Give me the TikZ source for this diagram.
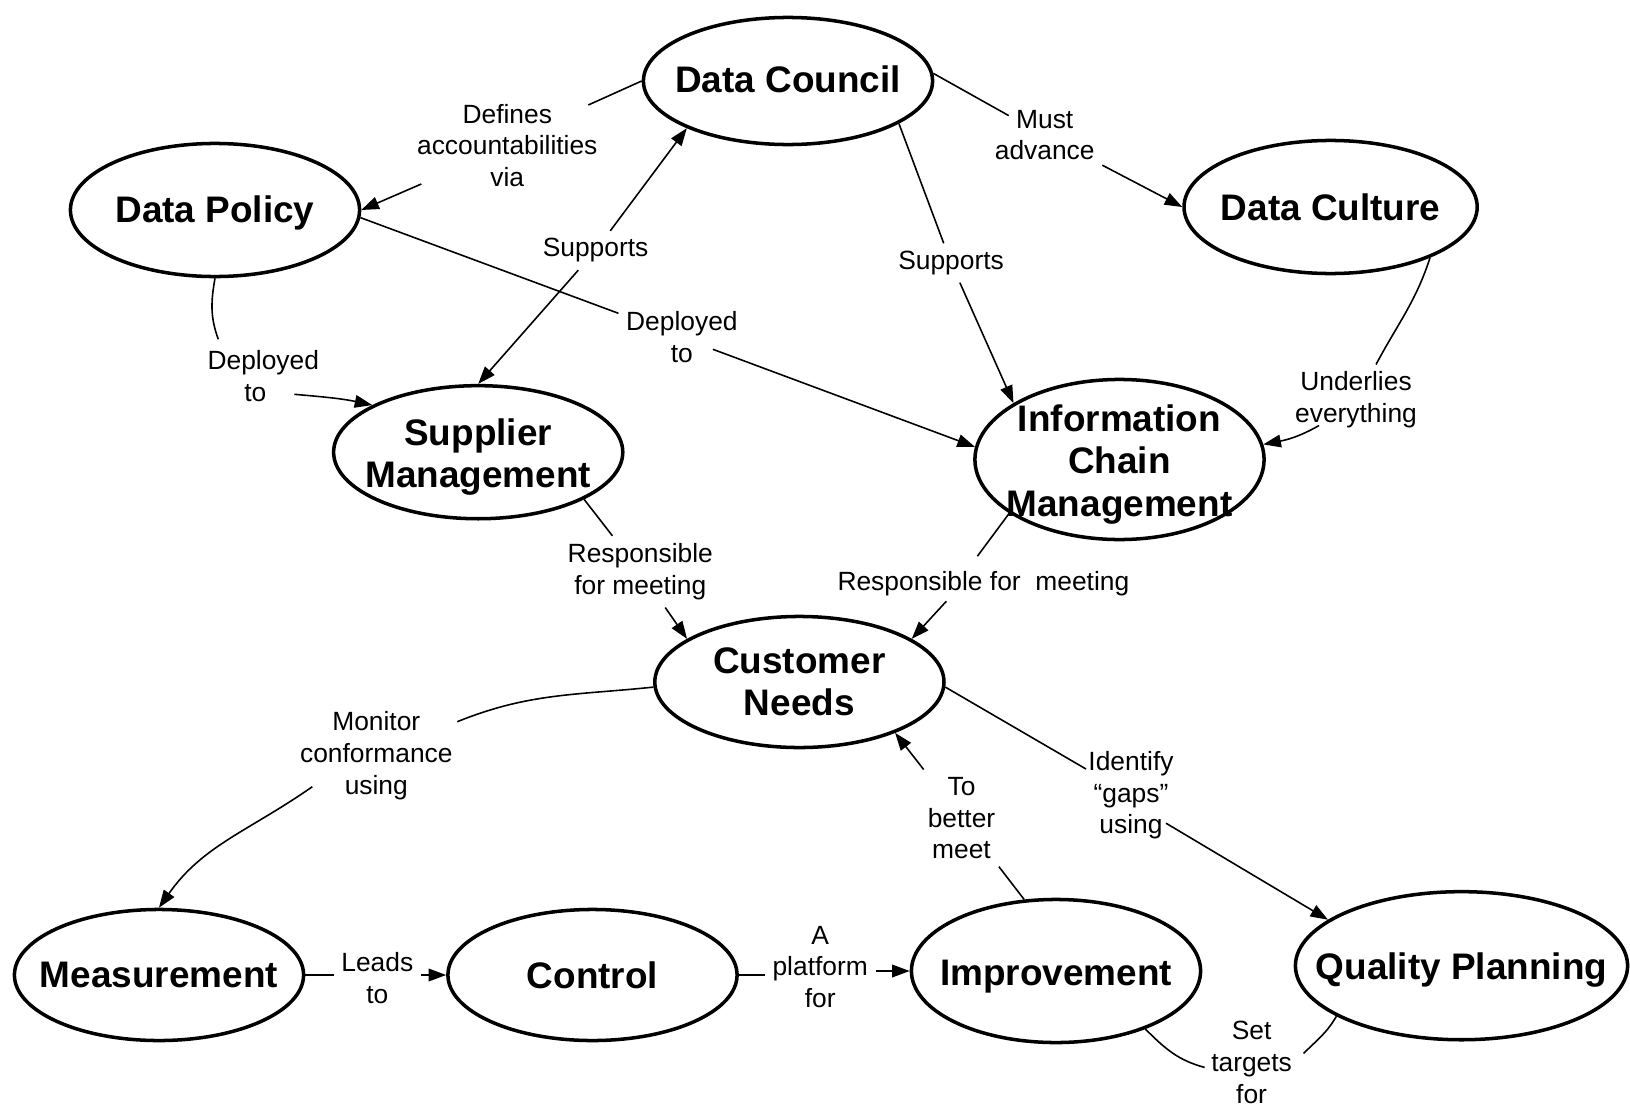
\documentclass[tikz,border=0pt]{standalone}
\usepackage{fontspec}
\setmainfont{Liberation Sans}
\usetikzlibrary{shapes.geometric, arrows.meta, calc}

\tikzset{
  concept/.style={ellipse, draw, line width=1pt, inner sep=0pt,
    minimum width=2.89cm, minimum height=1.31cm},
  ctext/.style={font=\fontsize{10.5}{12.1}\selectfont\bfseries, align=center, inner sep=0pt},
  rel/.style={font=\fontsize{7.5}{9}\selectfont, align=center, inner sep=2pt},
  edgeline/.style={line width=0.45pt},
  edgearrow/.style={edgeline, -{Triangle[length=5pt, width=3.6pt]}},
}

\begin{document}
\begin{tikzpicture}[x=0.01cm, y=0.01cm]
\useasboundingbox (0,0) rectangle (1630,-1106);

% concepts
\node[concept, minimum height=1.27cm, label={[ctext, yshift=0.02cm]center:{Data Council}}] (DC) at (788,-81) {};
\node[concept, minimum height=1.33cm, label={[ctext, yshift=-0.03cm]center:{Data Policy}}] (DP) at (215,-210) {};
\node[concept, minimum width=2.93cm, minimum height=1.33cm, label={[ctext]center:{Data Culture}}] (DCu) at (1330.6,-207) {};
\node[concept, minimum height=1.33cm, label={[ctext, yshift=-0.05cm]center:{Supplier\\Management}}] (SM) at (478.2,-452.2) {};
\node[concept, minimum height=1.60cm, label={[ctext, yshift=-0.05cm]center:{Information\\Chain\\Management}}] (ICM) at (1119.5,-459.5) {};
\node[concept, label={[ctext]center:{Customer\\Needs}}] (CN) at (799.4,-682) {};
\node[concept, label={[ctext]center:{Measurement}}] (Meas) at (159,-975) {};
\node[concept, label={[ctext]center:{Control}}] (Ctrl) at (592.5,-975) {};
\node[concept, minimum height=1.43cm, label={[ctext, yshift=-0.06cm]center:{Improvement}}] (Impr) at (1056,-971) {};
\node[concept, minimum width=3.32cm, minimum height=1.48cm, label={[ctext, yshift=-0.04cm]center:{Quality Planning}}] (QP) at (1461.5,-965.7) {};

% relation labels
\node[rel] (lblDefines) at (507.3,-145.5) {Defines\\accountabilities\\via};
\node[rel] (lblSupSM) at (595.6,-250.5) {Supports};
\node[rel] (lblDepICM) at (681.9,-336.8) {Deployed\\to};
\node[rel] (lblDepSM) at (263.3,-376.3) {Deployed\\to\hspace*{0.16cm}};
\node[rel] (lblSupICM) at (951.1,-263) {Supports};
\node[rel] (lblMust) at (1044.7,-135.1) {Must\\advance};
\node[rel] (lblUnder) at (1356,-399.5) {Underlies\\everything};
\node[rel] (lblRespSM) at (640.3,-571.7) {Responsible\\for meeting};
\node[rel] (lblRespICM) at (983.4,-583.2) {Responsible for\ \ meeting};
\node[rel] (lblMonitor) at (376.3,-755.7) {Monitor\\conformance\\using};
\node[rel] (lblLeads) at (377.3,-978.2) {Leads\\to};
\node[rel] (lblPlatform) at (820.2,-966.7) {A\\platform\\for};
\node[rel] (lblBetter) at (961.5,-818.1) {To\\better\\meet};
\node[rel, inner sep=0.5pt] (lblGaps) at (1131,-795.2) {Identify\\“gaps”\\using};
\node[rel] (lblTargets) at (1251.6,-1062.4) {Set\\targets\\for};

% Data Council
\draw[edgeline] (DC.west) -- ($(lblDefines)+(81,40.5)$);
\draw[edgearrow] ($(lblDefines)+(-86,-38.5)$) -- (DP.east);
\draw[edgearrow] (lblSupSM) -- (DC.205);
\draw[edgearrow] (lblSupSM) -- (SM.north);
\draw[edgeline] (DC.-21) -- (lblSupICM);
\draw[edgearrow] (lblSupICM) -- (ICM.152);
\draw[edgeline] (DC.3) -- ($(lblMust)+(-36,19.5)$);
\draw[edgearrow] (lblMust) -- (DCu.west);

% Data Policy
\draw[edgeline] (DP.-3) -- (lblDepICM);
\draw[edgearrow] ($(lblDepICM)+(31,-12.5)$) -- (ICM.175);
\draw[edgeline] (DP.south) to[out=-100, in=110] ($(lblDepSM)+(-45,37)$);
\draw[edgearrow] ($(lblDepSM)+(31,-18)$) to[out=-5, in=168] (SM.156);

% Data Culture
\draw[edgeline] (DCu.-27) to[out=-108, in=62] ($(lblUnder)+(20,35)$);
\draw[edgearrow] ($(lblUnder)+(-37,-26)$) to[out=-150, in=11] (ICM.6);

% Responsible for meeting
\draw[edgeline] (SM.-24) -- (lblRespSM);
\draw[edgearrow] (lblRespSM) -- (CN.159);
\draw[edgeline] (ICM.-154) -- ($(lblRespICM)+(-6,27)$);
\draw[edgearrow] ($(lblRespICM)+(-37,-18)$) -- (CN.21);

% Customer Needs
\draw[edgeline] (CN.182) to[out=186, in=22] ($(lblMonitor)+(81,34)$);
\draw[edgearrow] ($(lblMonitor)+(-64,-31)$) to[out=215, in=55] (Meas.north);
\draw[edgeline] (CN.-2) -- (lblGaps);
\draw[edgearrow] ($(lblGaps)+(35,-28)$) -- (QP.161);

% bottom row
\draw[edgeline] (Meas.east) -- (Meas.east -| lblLeads.west);
\draw[edgearrow] (Ctrl.west -| lblLeads.east) -- (Ctrl.west);
\draw[edgeline] (Ctrl.east) -- (Ctrl.east -| lblPlatform.west);
\draw[edgearrow] (Impr.west -| lblPlatform.east) -- (Impr.west);
\draw[edgeline] (Impr.114) -- (lblBetter);
\draw[edgearrow] (lblBetter) -- (CN.-28);
\draw[edgeline] (Impr.-33) to[out=-45, in=165] ($(lblTargets)+(-47,-5)$);
\draw[edgeline] ($(lblTargets)+(52,9)$) to[out=45, in=-120] (QP.-158);
\end{tikzpicture}
\end{document}
